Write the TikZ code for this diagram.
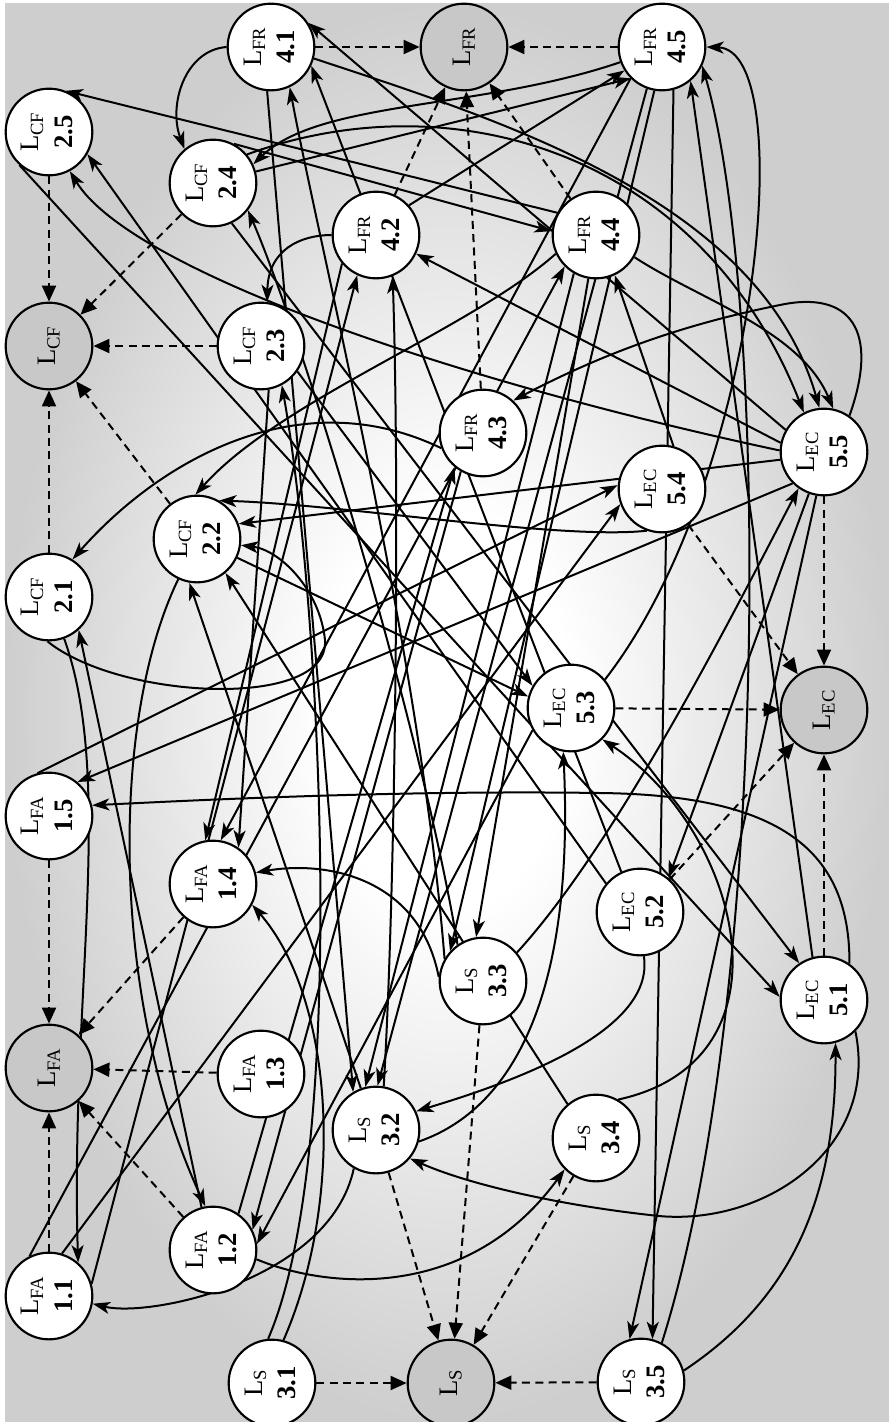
\documentclass[tikz,border=0pt]{standalone}
\usepackage{fontspec}
\setmainfont{Liberation Serif}
\usepackage{graphicx}
\usetikzlibrary{arrows.meta}
\definecolor{bgedge}{RGB}{206,206,206}
\definecolor{hubgray}{RGB}{200,200,200}
\pgfdeclareradialshading{bgshade}{\pgfpoint{0bp}{0bp}}{color(0bp)=(white); color(7bp)=(white); color(25bp)=(bgedge); color(50bp)=(bgedge)}
\pgfdeclarelayer{bg}
\pgfdeclarelayer{edges}
\pgfsetlayers{bg,edges,main}
\newcommand{\critlab}[2]{\rotatebox{90}{\begin{tabular}{@{}c@{}}L\textsubscript{#1}\\\textbf{#2}\end{tabular}}}
\newcommand{\hublab}[1]{\rotatebox{90}{L\textsubscript{#1}}}
\begin{document}
\begin{tikzpicture}[x=0.75pt,y=-0.75pt,
  crit/.style={circle, draw, line width=1.6pt, fill=white, minimum size=65pt, inner sep=0pt,
    font=\fontsize{20}{25}\selectfont},
  hub/.style={crit, fill=hubgray},
  rel/.style={line width=1.5pt, -{Stealth[length=13pt,width=9pt,inset=3.5pt]}},
  agg/.style={line width=1.5pt, dash pattern=on 6pt off 4pt, -{Triangle[length=12pt,width=10.5pt]}}]

\useasboundingbox (0,0) rectangle (889,1422);
\begin{pgfonlayer}{bg}
  \fill[white] (0,0) rectangle (889,1422);
  \shade[shading=bgshade] (5,3) rectangle (889,1422);
\end{pgfonlayer}

% ---- criteria nodes ----
\node[hub]  (fa)  at (49,1068)  {\hublab{FA}};
\node[crit] (fa1) at (49,1296)  {\critlab{FA}{1.1}};
\node[crit] (fa2) at (213,1250) {\critlab{FA}{1.2}};
\node[crit] (fa3) at (261,1074) {\critlab{FA}{1.3}};
\node[crit] (fa4) at (213,884)  {\critlab{FA}{1.4}};
\node[crit] (fa5) at (49,816)   {\critlab{FA}{1.5}};

\node[hub]  (cf)  at (49,346)   {\hublab{CF}};
\node[crit] (cf1) at (49,597)   {\critlab{CF}{2.1}};
\node[crit] (cf2) at (197,539)  {\critlab{CF}{2.2}};
\node[crit] (cf3) at (261,346)  {\critlab{CF}{2.3}};
\node[crit] (cf4) at (213,183)  {\critlab{CF}{2.4}};
\node[crit] (cf5) at (49,132)   {\critlab{CF}{2.5}};

\node[hub]  (fr)  at (464,47)   {\hublab{FR}};
\node[crit] (fr1) at (271,47)   {\critlab{FR}{4.1}};
\node[crit] (fr2) at (376,235)  {\critlab{FR}{4.2}};
\node[crit] (fr3) at (483,433)  {\critlab{FR}{4.3}};
\node[crit] (fr4) at (596,235)  {\critlab{FR}{4.4}};
\node[crit] (fr5) at (662,47)   {\critlab{FR}{4.5}};

\node[hub]  (ec)  at (824,710)  {\hublab{EC}};
\node[crit] (ec1) at (824,1000) {\critlab{EC}{5.1}};
\node[crit] (ec2) at (640,912)  {\critlab{EC}{5.2}};
\node[crit] (ec3) at (571,708)  {\critlab{EC}{5.3}};
\node[crit] (ec4) at (662,489)  {\critlab{EC}{5.4}};
\node[crit] (ec5) at (824,452)  {\critlab{EC}{5.5}};

\node[hub]  (s)   at (451,1383) {\hublab{S}};
\node[crit] (s1)  at (272,1383) {\critlab{S}{3.1}};
\node[crit] (s2)  at (376,1130) {\critlab{S}{3.2}};
\node[crit] (s3)  at (483,981)  {\critlab{S}{3.3}};
\node[crit] (s4)  at (596,1138) {\critlab{S}{3.4}};
\node[crit] (s5)  at (641,1382) {\critlab{S}{3.5}};

\begin{pgfonlayer}{edges}
% ---- aggregation (dashed) ----
\foreach \a/\b in {cf5/cf,cf4/cf,cf3/cf,cf2/cf,cf1/cf,
                   fr1/fr,fr2/fr,fr3/fr,fr4/fr,fr5/fr,
                   ec1/ec,ec2/ec,ec3/ec,ec4/ec,ec5/ec,
                   fa1/fa,fa2/fa,fa3/fa,fa4/fa,fa5/fa,
                   s1/s,s2/s,s3/s,s4/s,s5/s}
  \draw[agg] (\a) -- (\b);

% ---- influences into CF ----
\draw[rel] (fr1.180) .. controls (185,50) and (168,105) .. (cf4.130);
\draw[rel] (fr5.200) .. controls (480,110) and (320,100) .. (cf4.25);
\draw[rel] (s3.125) .. controls (420,720) and (300,330) .. (cf4.-38);
\draw[rel] (fr4.150) -- (cf5.68);
\draw[rel] (ec2.140) -- (cf5.-30);
\draw[rel] (ec5.178) .. controls (450,380) and (130,270) .. (cf5.-62);
\draw[rel] (fr2.180) .. controls (300,235) and (268,250) .. (cf3.82);
\draw[rel] (s1.95) .. controls (350,1150) and (320,600) .. (cf3.-62);
\draw[rel] (fr4.-155) .. controls (470,330) and (280,400) .. (cf2.92);
\draw[rel] (ec4.-110) .. controls (560,540) and (350,505) .. (cf2.60);
\draw[rel] (ec5.190) -- (cf2.20);
\draw[rel] (cf1.-92) .. controls (120,700) and (330,710) .. (325,640)
                     .. controls (320,590) and (280,550) .. (cf2.-8);
\draw[rel] (s2.110) -- (cf2.-100);
\draw[rel] (s4.130) -- (cf2.-50);
\draw[rel] (fr3.200) .. controls (300,380) and (160,460) .. (cf1.58);
\draw[rel] (fa2.105) -- (cf1.-48);

% ---- influences into FR ----
\draw[rel] (ec5.150) -- (fr1.33);
\draw[rel] (ec2.115) -- (fr1.-25);
\draw[rel] (s3.150) .. controls (420,650) and (320,250) .. (fr1.-65);
\draw[rel] (s2.80) .. controls (395,900) and (400,500) .. (fr2.-68);
\draw[rel] (ec5.168) -- (fr2.-25);
\draw[rel] (fa1.16) -- (fr2.-115);
\draw[rel] (ec5.55) .. controls (880,330) and (850,290) .. (780,305)
                    .. controls (680,325) and (600,355) .. (fr3.47);
\draw[rel] (fa2.55) -- (fr3.-130);
\draw[rel] (cf4.62) -- (fr4.175);
\draw[rel] (ec4.75) -- (fr4.-65);
\draw[rel] (fa1.116) -- (fr4.-135);
\draw[rel] (cf4.15) -- (fr5.225);
\draw[rel] (fr2.42) -- (fr5.212);
\draw[rel] (ec3.40) .. controls (760,480) and (800,50) .. (fr5.0);
\draw[rel] (s5.62) .. controls (770,1000) and (770,300) .. (fr5.-25);
\draw[rel] (ec1.105) -- (fr5.-50);

% ---- influences into EC ----
\draw[rel] (cf5.-132) -- (ec1.176);
\draw[rel] (cf4.-65) -- (ec1.124);
\draw[rel] (s5.15) .. controls (790,1300) and (836,1200) .. (ec1.-75);
\draw[rel] (cf4.40) .. controls (450,80) and (700,150) .. (ec5.117);
\draw[rel] (fr1.-15) .. controls (500,120) and (760,200) .. (ec5.96);
\draw[rel] (fr4.-30) .. controls (700,300) and (800,330) .. (ec5.78);
\draw[rel] (s3.40) .. controls (620,840) and (740,600) .. (ec5.-125);
\draw[rel] (cf3.-35) -- (ec3.150);
\draw[rel] (cf2.-25) -- (ec3.165);
\draw[rel] (s2.-15) .. controls (510,1110) and (575,1000) .. (ec3.-100);
\draw[rel] (s4.60) .. controls (800,1060) and (740,830) .. (ec3.-45);
\draw[rel] (ec5.-110) -- (ec2.50);
\draw[rel] (fa5.105) -- (ec4.175);
\draw[rel] (fa1.73) -- (ec4.200);

% ---- influences into S ----
\draw[rel] (fr1.-95) -- (s2.121);
\draw[rel] (fr4.-120) -- (s2.104);
\draw[rel] (fr5.-110) -- (s2.88);
\draw[rel] (ec2.-85) .. controls (655,1030) and (520,1080) .. (s2.25);
\draw[rel] (ec1.-45) .. controls (880,1150) and (760,1230) .. (650,1215)
                     .. controls (560,1205) and (470,1185) .. (s2.-40);
\draw[rel] (fr5.-100) -- (s3.138);
\draw[rel] (fr4.-100) -- (s3.99);
\draw[rel] (fa2.-12) .. controls (330,1290) and (470,1300) .. (s4.-135);
\draw[rel] (fr5.-75) -- (s5.75);
\draw[rel] (ec5.-100) -- (s5.105);

% ---- influences into FA ----
\draw[rel] (cf1.-70) .. controls (115,780) and (70,1000) .. (fa1.49);
\draw[rel] (s2.-120) .. controls (330,1280) and (150,1318) .. (fa1.-10);
\draw[rel] (cf2.-115) .. controls (110,720) and (110,1000) .. (fa2.100);
\draw[rel] (fr3.-120) -- (fa2.27);
\draw[rel] (ec3.-150) -- (fa2.8);
\draw[rel] (fr2.-140) -- (fa4.100);
\draw[rel] (fr5.-135) -- (fa4.80);
\draw[rel] (cf3.-80) -- (fa4.55);
\draw[rel] (s3.175) .. controls (420,880) and (330,860) .. (fa4.15);
\draw[rel] (s1.75) .. controls (345,1200) and (335,1000) .. (fa4.-28);
\draw[rel] (ec5.-135) -- (fa5.50);
\draw[rel] (ec1.55) .. controls (850,850) and (780,795) .. (600,793)
                    .. controls (400,790) and (200,800) .. (fa5.14);
\end{pgfonlayer}
\end{tikzpicture}
\end{document}
